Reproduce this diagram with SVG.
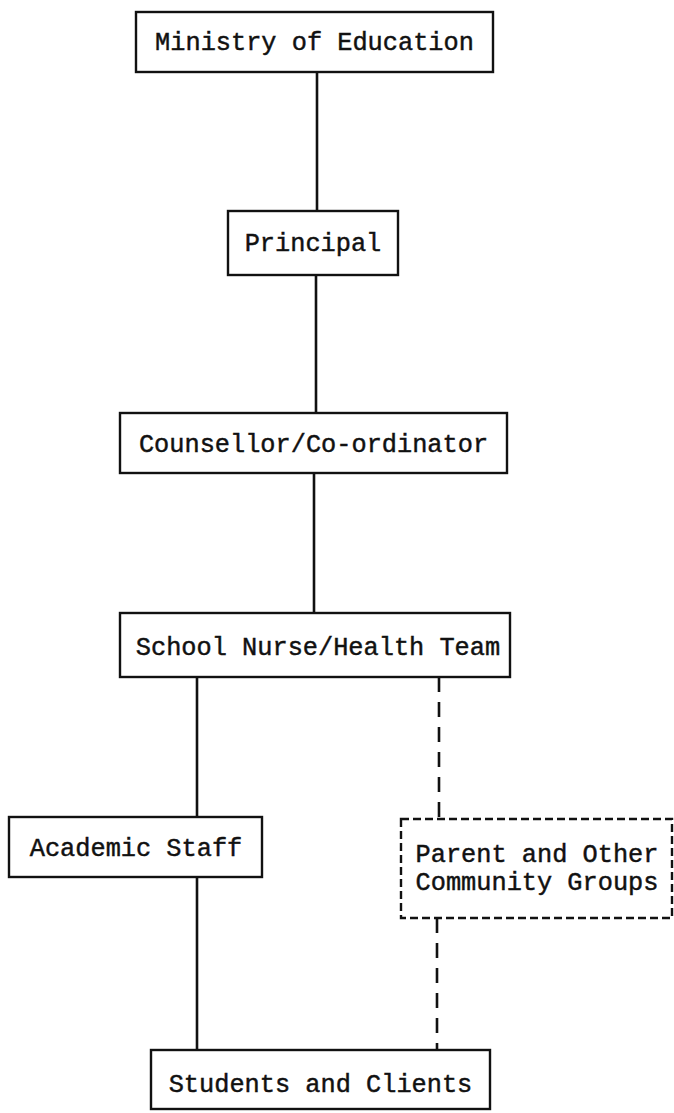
<svg xmlns="http://www.w3.org/2000/svg" width="674" height="1113" viewBox="0 0 674 1113">
<style>
.box{fill:#fff;stroke:#111;stroke-width:2.4}
.dbox{fill:#fff;stroke:#111;stroke-width:2.4;stroke-dasharray:8 4}
.lbl{font-family:"Liberation Mono","DejaVu Sans Mono",monospace;font-size:25.3px;fill:#111;stroke:#111;stroke-width:0.45;text-anchor:middle}
.ln{stroke:#111;stroke-width:2.6;fill:none}
.dln{stroke:#111;stroke-width:2.6;fill:none;stroke-dasharray:15 10}
</style>
<rect width="674" height="1113" fill="#fff"/>
<g id="connectors">
<line class="ln" x1="317" y1="72" x2="317" y2="211"/>
<line class="ln" x1="316" y1="275" x2="316" y2="413"/>
<line class="ln" x1="314" y1="473" x2="314" y2="613"/>
<line class="ln" x1="197" y1="677" x2="197" y2="817"/>
<line class="ln" x1="197" y1="877" x2="197" y2="1050"/>
<line class="dln" x1="439" y1="677" x2="439" y2="819"/>
<line class="dln" x1="437" y1="918" x2="437" y2="1050"/>
</g>
<g id="ministry">
<rect class="box" x="136" y="12" width="357" height="60"/>
<text class="lbl" x="314.5" y="50">Ministry of Education</text>
</g>
<g id="principal">
<rect class="box" x="228" y="211" width="170" height="64"/>
<text class="lbl" x="313" y="251">Principal</text>
</g>
<g id="counsellor">
<rect class="box" x="120" y="413" width="387" height="60"/>
<text class="lbl" x="313.5" y="452">Counsellor/Co-ordinator</text>
</g>
<g id="nurse">
<rect class="box" x="120" y="613" width="390" height="64"/>
<text class="lbl" x="318" y="655">School Nurse/Health Team</text>
</g>
<g id="academic">
<rect class="box" x="9" y="817" width="253" height="60"/>
<text class="lbl" x="136" y="856">Academic Staff</text>
</g>
<g id="parent">
<rect class="dbox" x="401" y="819" width="271" height="99"/>
<text class="lbl" x="537" y="862">Parent and Other</text>
<text class="lbl" x="537" y="890">Community Groups</text>
</g>
<g id="students">
<rect class="box" x="151" y="1050" width="339" height="59"/>
<text class="lbl" x="320.5" y="1092">Students and Clients</text>
</g>
</svg>
